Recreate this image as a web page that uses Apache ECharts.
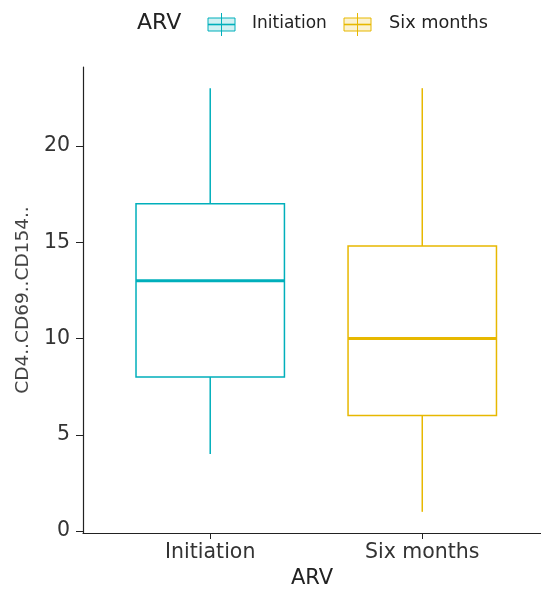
<!DOCTYPE html>
<html>
<head>
<meta charset="utf-8">
<style>
  html, body { margin: 0; padding: 0; background: #fff; }
  #chart { width: 541px; height: 590px; }
</style>
<script src="https://cdn.jsdelivr.net/npm/echarts@6/dist/echarts.min.js"></script>
</head>
<body>
<div id="chart"></div>
<script>
// Five-number summaries per ARV group
const categories = ['Initiation', 'Six months'];
const whiskerLow = [4, 1];
const lowerQuartile = [8, 6];
const medians = [13, 10];
const upperQuartile = [17, 14.8];
const whiskerHigh = [23, 23];
const groupColors = ['#00AFBB', '#E7B800'];
const yTickValues = [0, 5, 10, 15, 20];
const xTickValues = [1, 2];

const FONT = 'DejaVu Sans';
const BOX_WIDTH = 0.7; // in category units

function renderBox(params, api) {
  const x = api.value(0);
  const lo = api.value(1), q1 = api.value(2), med = api.value(3), q3 = api.value(4), hi = api.value(5);
  const color = groupColors[params.seriesIndex];
  const half = api.size([BOX_WIDTH, 0])[0] / 2;
  const pLo = api.coord([x, lo]);
  const pQ1 = api.coord([x, q1]);
  const pMed = api.coord([x, med]);
  const pQ3 = api.coord([x, q3]);
  const pHi = api.coord([x, hi]);
  const lineStyle = { stroke: color, lineWidth: 1.5, fill: null };
  return {
    type: 'group',
    children: [
      { type: 'line', shape: { x1: pHi[0], y1: pHi[1], x2: pQ3[0], y2: pQ3[1] }, style: lineStyle },
      { type: 'line', shape: { x1: pQ1[0], y1: pQ1[1], x2: pLo[0], y2: pLo[1] }, style: lineStyle },
      { type: 'rect', shape: { x: pQ3[0] - half, y: pQ3[1], width: half * 2, height: pQ1[1] - pQ3[1] },
        style: { stroke: color, lineWidth: 1.5, fill: '#ffffff' } },
      { type: 'line', shape: { x1: pMed[0] - half, y1: pMed[1], x2: pMed[0] + half, y2: pMed[1] },
        style: { stroke: color, lineWidth: 2.8 } }
    ]
  };
}

const series = categories.map(function (name, i) {
  return {
    name: name,
    type: 'custom',
    renderItem: renderBox,
    encode: { x: 0, y: [1, 2, 3, 4, 5] },
    data: [[xTickValues[i], whiskerLow[i], lowerQuartile[i], medians[i], upperQuartile[i], whiskerHigh[i]]],
    silent: true
  };
});

// Legend keys: small boxplot glyphs with a light tint
function legendKey(x, color, tint) {
  const cx = x + 13.5;
  return [
    { type: 'line', shape: { x1: cx, y1: 13, x2: cx, y2: 36 }, style: { stroke: color, lineWidth: 1 } },
    { type: 'rect', shape: { x: x, y: 18, width: 27, height: 13 }, style: { stroke: color, lineWidth: 1, fill: tint } },
    { type: 'line', shape: { x1: x, y1: 24.5, x2: x + 27, y2: 24.5 }, style: { stroke: color, lineWidth: 1.6 } }
  ];
}

const legendGraphics = [
  { type: 'text', left: 137, top: 12, style: { text: 'ARV', font: '22px ' + FONT, fill: '#222' } }
].concat(
  legendKey(208, groupColors[0], 'rgba(0,175,187,0.18)'),
  [{ type: 'text', left: 252, top: 15, style: { text: categories[0], font: '17px ' + FONT, fill: '#222' } }],
  legendKey(344, groupColors[1], 'rgba(231,184,0,0.18)'),
  [{ type: 'text', left: 389, top: 14, style: { text: categories[1], font: '17.7px ' + FONT, fill: '#222' } }]
);

const chart = echarts.init(document.getElementById('chart'), null, { renderer: 'canvas' });
chart.setOption({
  animation: false,
  backgroundColor: '#ffffff',
  grid: { left: 83, right: 0, top: 67, bottom: 57, containLabel: false, outerBoundsMode: 'none' },
  xAxis: {
    type: 'value',
    min: 0.4,
    max: 2.56,
    name: 'ARV',
    nameLocation: 'middle',
    nameGap: 34,
    nameTextStyle: { fontFamily: FONT, fontSize: 21, color: '#222' },
    axisLine: { show: true, onZero: false, lineStyle: { color: '#222', width: 1.2 } },
    axisTick: { show: true, customValues: xTickValues, length: 6, lineStyle: { color: '#222' } },
    axisLabel: {
      customValues: xTickValues,
      margin: 9,
      fontFamily: FONT,
      fontSize: 20.5,
      color: '#333',
      formatter: function (v) { return categories[Math.round(v) - 1]; }
    },
    splitLine: { show: false }
  },
  yAxis: {
    type: 'value',
    min: -0.1,
    max: 24.1,
    name: 'CD4..CD69..CD154..',
    nameLocation: 'middle',
    nameGap: 46,
    nameRotate: 90,
    nameTextStyle: { fontFamily: FONT, fontSize: 18.5, color: '#444' },
    axisLine: { show: true, onZero: false, lineStyle: { color: '#222', width: 1.2 } },
    axisTick: { show: true, customValues: yTickValues, length: 7, lineStyle: { color: '#222' } },
    axisLabel: {
      customValues: yTickValues,
      margin: 13,
      fontFamily: FONT,
      fontSize: 20.5,
      color: '#333'
    },
    splitLine: { show: false }
  },
  graphic: legendGraphics,
  series: series
});
</script>
</body>
</html>
